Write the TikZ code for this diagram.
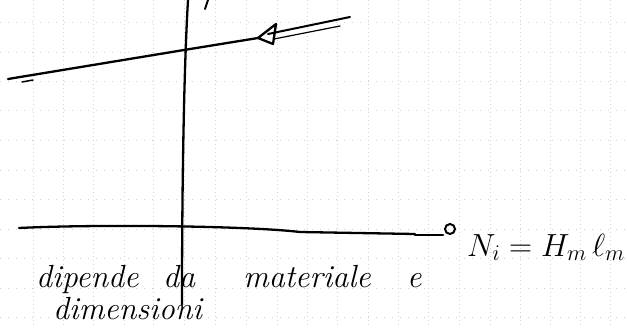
\RequirePackage{fix-cm}
\documentclass[tikz,border=0pt]{standalone}
\begin{document}
\begin{tikzpicture}[x=1pt,y=-1pt,
  gridv/.style={gray!35, line width=0.5pt, dash pattern=on 1pt off 3pt},
  gridh/.style={gray!35, line width=0.5pt, dash pattern=on 1pt off 7pt},
  ink/.style={black, line width=2.3pt, line cap=round, line join=round},
  hand/.style={font=\fontsize{32}{32}\selectfont\itshape, inner sep=0pt, anchor=base west},
  formula/.style={font=\fontsize{32}{32}\selectfont, inner sep=0pt, anchor=base west}]
\useasboundingbox (0,0) rectangle (627,327);
\fill[white] (0,0) rectangle (627,327);
\foreach \x in {33,63,93,124,153,184,215,246,277,307,337,368,398,428,459,490,520,550,580,610}
  \draw[gridv] (\x,0) -- (\x,327);
\foreach \y in {22,52,81,110,140,170,199,229,258,288,317}
  \draw[gridh] (0,\y) -- (627,\y);
% vertical axis
\draw[ink] (188,0) .. controls (185,50) and (182,150) .. (182,305);
\draw[ink, line width=2pt] (208,0) -- (205,9);
% sloped line with arrowhead
\draw[ink] (8,79) -- (184,50) -- (258,38);
\draw[ink, line width=1.5pt] (22,82) -- (33,80);
\draw[ink] (258,38) -- (276,24) -- (273,44) -- cycle;
\draw[ink, line width=2pt] (268,34) -- (350,17);
\draw[ink, line width=1.2pt] (274,39) -- (340,26);
% horizontal axis
\draw[ink] (19,228) .. controls (100,224) and (250,226) .. (300,232) -- (415,234);
\draw[ink] (415,235) -- (443,235);
\node[circle, draw, line width=2pt, minimum size=10pt, inner sep=0pt] (tip) at (450,229) {};
% texts
\node[formula] (f) at (467,256) {$N_i = H_m\,\ell_m$};
\node[hand] (w1) at (36,287) {dipende};
\node[hand] (w2) at (163,287) {da};
\node[hand] (w3) at (243,287) {materiale};
\node[hand] (w4) at (407,287) {e};
\node[hand] (w5) at (53,319) {dimensioni};
\end{tikzpicture}
\end{document}
